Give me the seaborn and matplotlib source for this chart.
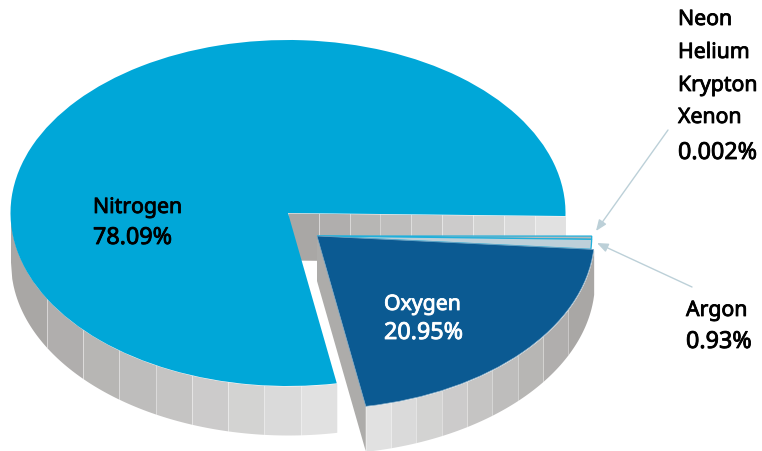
import matplotlib
matplotlib.use("Agg")
import matplotlib.pyplot as plt
import matplotlib.patheffects as pe
import numpy as np
import seaborn as sns

# shares as drawn, in percent. the trace gases are 0.002% on the label but the
# slice in the picture is wider than that so it can be seen
gases = ['Nitrogen', 'Oxygen', 'Argon', 'Trace']
shares = [78.09, 20.95, 0.93, 0.3]
gas_colors = ['#00A7D8', '#0B5A92', '#BDD0D9', '#B4B8BA']

labels_dark = ['Nitrogen', '78.09%']
labels_light = ['Oxygen', '20.95%']
trace_lines = ['Neon', 'Helium', 'Krypton', 'Xenon', '0.002%']
argon_lines = ['Argon', '0.93%']

W, H = 762, 452
CX, CY, RX, RY = 288, 214, 277.5, 173
N_DEPTH = 49 / RY
O_DEPTH = 45 / RY
BACK_DEPTH = 47 / RY
START = -1.0
BANDS = 9


def to_data(px, py):
    return (px - CX) / RX, (CY - py) / RY


sns.set_theme(style='white')
plt.rcParams['font.family'] = ['Noto Sans', 'DejaVu Sans']

fig, ax = plt.subplots(figsize=(W / 100, H / 100), dpi=100)
fig.subplots_adjust(0, 0, 1, 1)
ax.set_axis_off()

dark = '#A9A7A5'
light = '#E1E1E1'
ramp_up = sns.blend_palette([dark, light], BANDS)
ramp_down = ramp_up[::-1]


def rim_wall(cx, cy, t0, t1, ramp, z, depth, sep_alpha):
    # curved side of a slice, split in bands of equal width like the original
    edges = np.linspace(np.cos(np.radians(t0)), np.cos(np.radians(t1)), BANDS + 1)
    for i in range(BANDS):
        x = np.linspace(edges[i], edges[i + 1], 30)
        top = -np.sqrt(np.clip(1 - x ** 2, 0, 1))
        ax.fill_between(cx + x, cy + top, cy + top - depth, color=ramp[i], lw=0, zorder=z)
        if i > 0:
            ax.plot([cx + x[0]] * 2, [cy + top[0], cy + top[0] - depth],
                    color='white', alpha=sep_alpha, lw=0.7, zorder=z)


n_frac, o_frac, a_frac, t_frac = [s / 100 for s in shares]
n_end = START + n_frac * 360
o_end = n_end + o_frac * 360
a_end = o_end + a_frac * 360

n_c = (0.0, 0.0)
o_c = to_data(317, 237)

# back wall of the nitrogen cut, seen through the gap
edges = np.linspace(0, np.cos(np.radians(START)), BANDS + 1)
slope = np.tan(np.radians(START))
for i in range(BANDS):
    x = np.array([edges[i], edges[i + 1]])
    ax.fill_between(x, x * slope, x * slope - BACK_DEPTH, color=ramp_up[i], lw=0, zorder=1)
    if i > 0:
        ax.plot([x[0], x[0]], [x[0] * slope, x[0] * slope - BACK_DEPTH], color='white',
                alpha=0.4, lw=0.7, zorder=1)

rim_wall(n_c[0], n_c[1], 180, n_end, ramp_up, 2, N_DEPTH, 0.4)

ax.pie([n_frac], startangle=START, radius=1, center=n_c, normalize=False,
       colors=[gas_colors[0]], wedgeprops={'linewidth': 0, 'zorder': 3})

# exploded part: oxygen with its walls, argon and the trace gases
rim_wall(o_c[0], o_c[1], n_end, o_end, ramp_down, 4, O_DEPTH, 0.25)
t = np.radians(n_end)
rx0, ry0 = o_c[0] + np.cos(t), o_c[1] + np.sin(t)
ax.fill([o_c[0], rx0, rx0, o_c[0]], [o_c[1], ry0, ry0 - O_DEPTH, o_c[1] - O_DEPTH],
        color='#ADACAA', lw=0, zorder=4)

ax.pie([t_frac], startangle=a_end, radius=0.99, center=o_c, normalize=False,
       colors=[gas_colors[3]],
       wedgeprops={'linewidth': 0.9, 'edgecolor': '#1FB0DC', 'zorder': 5})
ax.pie([a_frac], startangle=o_end, radius=0.99, center=o_c, normalize=False,
       colors=[gas_colors[2]],
       wedgeprops={'linewidth': 0.9, 'edgecolor': '#1FB0DC', 'zorder': 6})
ax.pie([o_frac], startangle=n_end, radius=1, center=o_c, normalize=False,
       colors=[gas_colors[1]],
       wedgeprops={'linewidth': 0.5, 'edgecolor': '#7FA8C4', 'zorder': 7})

ax.set_aspect('auto')
ax.set_xlim(to_data(0, 0)[0], to_data(W, 0)[0])
ax.set_ylim(to_data(0, H)[1], to_data(0, 0)[1])


def put(px, py, s, color='black'):
    # percent lines are a bit wider in the original
    size = 16.8 if s.endswith('%') else 15.3
    ax.text(*to_data(px, py), s, color=color, fontsize=size, va='baseline', ha='left', zorder=10,
            path_effects=[pe.withStroke(linewidth=0.6, foreground=color)])


for s, y in zip(labels_dark, [214, 245]):
    put(93, y, s)
for s, y in zip(labels_light, [311, 340]):
    put(384, y, s, 'white')
for s, y in zip(trace_lines, [26, 59, 92, 124, 160]):
    put(678, y, s)
for s, y in zip(argon_lines, [317, 349]):
    put(686, y, s)

arrow = {'arrowstyle': '-|>,head_width=0.22,head_length=0.55', 'color': '#BCD0D8', 'lw': 1,
         'shrinkA': 0, 'shrinkB': 0}
ax.annotate('', xy=to_data(596, 232), xytext=to_data(668, 131), arrowprops=arrow, zorder=9)
ax.annotate('', xy=to_data(597, 244), xytext=to_data(692, 288), arrowprops=arrow, zorder=9)

fig.savefig('out.png', dpi=100)
